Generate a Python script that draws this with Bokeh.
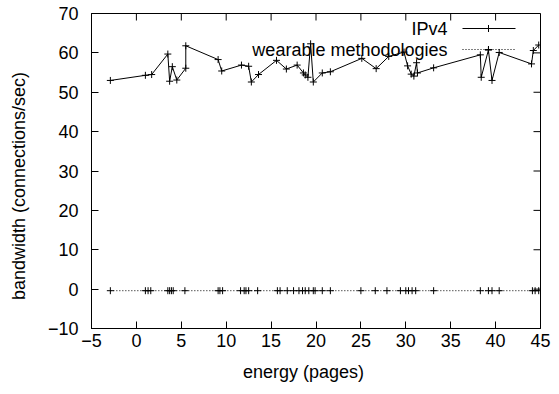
from bokeh.plotting import figure
from bokeh.models import Range1d, FixedTicker, LinearAxis
from bokeh.core.properties import value
from bokeh.embed import file_html
from bokeh.resources import INLINE

# IPv4 series
ipv4_x = [-2.9, 1.0, 1.7, 3.5, 3.7, 4.0, 4.5, 5.5, 5.5, 9.1, 9.5, 11.7, 12.5, 12.8,
          13.6, 15.6, 16.7, 17.9, 18.6, 18.8, 19.1, 19.4, 19.7, 20.7, 21.6, 25.1,
          26.7, 28.1, 29.8, 30.2, 30.6, 30.9, 31.2, 31.3, 33.1, 38.3, 38.4, 39.2,
          39.6, 40.4, 44.0, 44.2, 44.8]
ipv4_y = [53.0, 54.3, 54.5, 59.7, 52.8, 56.5, 53.1, 56.1, 61.8, 58.3, 55.4, 56.9,
          56.6, 52.6, 54.5, 58.1, 55.9, 56.9, 54.9, 54.4, 53.8, 62.3, 52.6, 54.9,
          55.2, 58.6, 56.0, 59.1, 60.2, 56.7, 54.6, 54.1, 57.5, 54.9, 56.2, 59.5,
          53.8, 60.7, 53.0, 60.1, 57.2, 60.6, 62.0]

# wearable methodologies series
wm_x = [-2.9, 1.0, 1.3, 1.6, 3.5, 3.7, 3.9, 4.1, 5.4, 9.1, 9.3, 9.6, 11.6, 12.0,
        12.2, 12.5, 13.5, 15.7, 16.0, 16.8, 17.5, 18.1, 18.5, 18.8, 19.2, 19.7,
        19.9, 20.7, 21.6, 25.0, 26.6, 27.9, 29.4, 30.0, 30.3, 30.7, 31.1, 33.1,
        38.3, 39.2, 39.6, 40.4, 44.1, 44.4, 44.8]
wm_y = [-0.4] * 45

x_ticks = [-5, 0, 5, 10, 15, 20, 25, 30, 35, 40, 45]
y_ticks = [-10, 0, 10, 20, 30, 40, 50, 60, 70]
x_title = "energy (pages)"
y_title = "bandwidth (connections/sec)"

FONT = "Liberation Sans"
FS = "18px"
TICK = 7
NBSP = "\u00a0"

W, H = 559, 394
ML, MR, MT, MB = 91, 19, 13, 66
FW, FH = W - ML - MR, H - MT - MB
X0, X1, Y0, Y1 = -5, 45, -10, 70

p = figure(width=W, height=H, output_backend="svg", toolbar_location=None,
           x_range=Range1d(X0, X1), y_range=Range1d(Y0, Y1),
           min_border_left=ML, min_border_right=MR, min_border_top=MT,
           min_border_bottom=MB, x_axis_location=None, y_axis_location=None)
p.extra_x_ranges = {"px": Range1d(0, FW)}
p.extra_y_ranges = {"py": Range1d(0, FH)}
p.xgrid.visible = False
p.ygrid.visible = False
p.outline_line_color = "black"
p.outline_line_width = 1
p.background_fill_color = "white"
p.border_fill_color = "white"


def style(ax):
    ax.major_tick_in = TICK
    ax.major_tick_out = 0
    ax.minor_tick_line_color = None
    ax.axis_line_color = "black"
    ax.major_tick_line_color = "black"
    ax.major_label_text_font = FONT
    ax.major_label_text_color = "black"
    ax.major_label_text_font_size = FS
    ax.axis_label_text_font = FONT
    ax.axis_label_text_font_style = "normal"
    ax.axis_label_text_color = "black"
    ax.axis_label_text_font_size = FS


# titles are padded with trailing no-break spaces to mimic gnuplot's off-centre placement
xb = LinearAxis(ticker=FixedTicker(ticks=x_ticks), axis_label=x_title + NBSP * 5)
style(xb)
xb.major_label_standoff = 5
xb.axis_label_standoff = 12
p.add_layout(xb, "below")

yl = LinearAxis(ticker=FixedTicker(ticks=y_ticks), axis_label=y_title + NBSP * 6)
style(yl)
yl.major_label_standoff = 13
yl.axis_label_standoff = 16
p.add_layout(yl, "left")

# mirrored ticks on top and right (gnuplot style)
dy = TICK * (Y1 - Y0) / FH
dx = TICK * (X1 - X0) / FW
p.segment(x0=x_ticks, y0=[Y1] * len(x_ticks), x1=x_ticks, y1=[Y1 - dy] * len(x_ticks),
          line_color="black", line_width=1)
p.segment(x0=[X1] * len(y_ticks), y0=y_ticks, x1=[X1 - dx] * len(y_ticks), y1=y_ticks,
          line_color="black", line_width=1)

# data
p.line(ipv4_x, ipv4_y, line_color="black", line_width=1)
p.scatter(ipv4_x, ipv4_y, marker="cross", size=7, line_color="black", line_width=1)
p.line(wm_x, wm_y, line_color="black", line_width=1, line_dash="1 2")
p.scatter(wm_x, wm_y, marker="cross", size=7, line_color="black", line_width=1)

# legend (gnuplot style: label, then sample on the right)
leg_text_x = 447 - ML
s0, s1, sm = 462 - ML, 515 - ML, 488 - ML
rows = [("IPv4", 28, None), ("wearable methodologies", 49, "1 2")]
for label, ycanvas, dash in rows:
    yy = (H - MB) - ycanvas
    p.text(x=[leg_text_x], y=[yy], text=[label], x_range_name="px", y_range_name="py",
           text_align="right", text_baseline="middle", text_font=value(FONT),
           text_font_size=FS, text_color="black")
    kw = dict(line_color="black", line_width=1)
    if dash:
        kw["line_dash"] = dash
    p.line([s0, s1], [yy, yy], x_range_name="px", y_range_name="py", **kw)
    p.scatter([sm], [yy], marker="cross", size=7, line_color="black", line_width=1,
              x_range_name="px", y_range_name="py")

open("out.html", "w").write(file_html(p, INLINE))
